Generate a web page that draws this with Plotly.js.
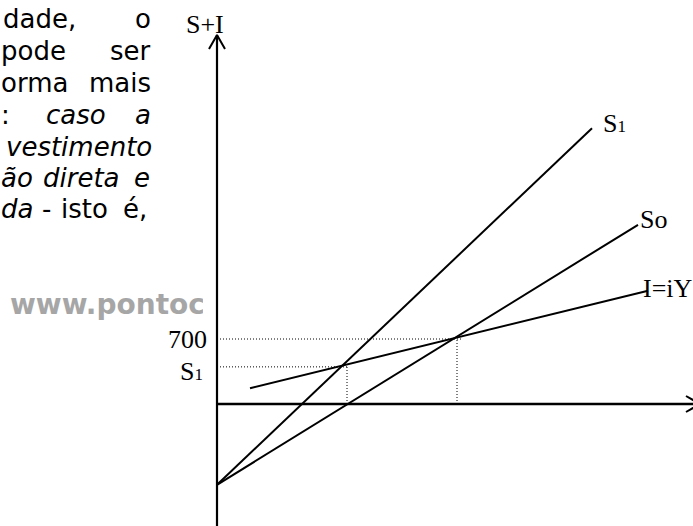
<!DOCTYPE html>
<html><head><meta charset="utf-8">
<script src="https://cdn.plot.ly/plotly-3.0.1.min.js"></script>
<style>html,body{margin:0;padding:0;background:#fff;overflow:hidden}#chart{width:693px;height:526px}</style>
</head><body><div id="chart"></div>
<script>
// ---- data (economic units) ----
const s1X = [0, 3750];          // saving line S1
const s1Y = [-870, 2970];
const s0X = [0, 4210];          // saving line So
const s0Y = [-870, 1930];
const invX = [330, 4310];       // investment line I = iY
const invY = [170, 1220];
const levelY = [700, 400];      // guide levels on the S+I axis
const levelLabels = ['700', 'S<span style="font-size:17px">1</span>'];
const eqX = [2400, 1300];       // equilibrium incomes (vertical guides)
const guideEndX = [2450, 1300]; // where horizontal guides stop
const curveLabels = ['S<span style="font-size:17px">1</span>', 'So', 'I=iY'];
const axisLabel = 'S+I';

// ---- geometry helpers (pixel -> data / paper) ----
const W = 693, H = 526, OX = 217, OY = 404, KX = 10, KY = 700 / 65;
const X = px => (px - OX) * KX;
const Y = py => (OY - py) * KY;
const PX = px => px / W;
const PY = py => 1 - py / H;

const seg = (x, y, o) => ({type: 'scatter', mode: 'lines', x, y, hoverinfo: 'skip',
  line: Object.assign({color: '#000', width: 2}, o || {})});

const traces = [];
// watermark (clipped on the right by a white patch)
traces.push({type: 'scatter', mode: 'text', x: [X(10)], y: [Y(307)], text: ['www.pontoc'],
  textposition: 'middle right', cliponaxis: false, hoverinfo: 'skip',
  textfont: {family: 'DejaVu Sans', size: 28, color: '#a6a6a6', weight: 'bold'}});
// dotted guides
for (let i = 0; i < levelY.length; i++) {
  traces.push(seg([0, guideEndX[i]], [levelY[i], levelY[i]], {width: 1, dash: '1px,2px'}));
  traces.push(seg([eqX[i], eqX[i]], [0, levelY[i]], {width: 1, dash: '1px,2px'}));
}
// axes
traces.push(seg([0, 0], [Y(540), Y(35)], {width: 2.2}));
traces.push(seg([0, X(700)], [0, 0], {width: 2.5}));
traces.push(seg([X(209), 0, X(225)], [Y(49), Y(35), Y(49)], {width: 2}));
traces.push(seg([X(686), X(700), X(686)], [Y(396), 0, Y(412)], {width: 2}));
// curves
traces.push(seg(s1X, s1Y));
traces.push(seg(s0X, s0Y));
traces.push(seg(invX, invY));

const ann = [];
const sans = {family: 'DejaVu Sans', size: 26, color: '#000'};
const serif = {family: 'Liberation Serif', size: 26, color: '#000'};
const put = (text, px, base, anchor, font) => ann.push({text, x: PX(px), y: PY(base - 0.34 * font.size),
  xref: 'paper', yref: 'paper', xanchor: anchor, yanchor: 'middle', showarrow: false, font, borderpad: 0});

// paragraph fragments (justified, cut at the left edge)
const para = [
  [['dade,', 2, 'left'], ['o', 152, 'right']],
  [['pode', 0, 'left'], ['ser', 152, 'right']],
  [['orma', 0, 'left'], ['mais', 152, 'right']],
  [[':', 0, 'left'], ['<i>caso</i>', 45, 'left'], ['<i>a</i>', 152, 'right']],
  [['<i>vestimento</i>', 153, 'right']],
  [['<i>ão</i>', 0, 'left'], ['<i>direta</i>', 42, 'left'], ['<i>e</i>', 151, 'right']],
  [['<i>da</i>', 0, 'left'], ['-', 41, 'left'], ['isto', 60, 'left'], ['é,', 148, 'right']]
];
const bases = [28, 60, 92, 124, 156, 187, 218];
para.forEach((ln, i) => ln.forEach(w => put(w[0], w[1], bases[i], w[2], sans)));

// chart labels
put(axisLabel, 205, 33, 'center', serif);
put(levelLabels[0], 208, 348, 'right', serif);
put(levelLabels[1], 204, 380, 'right', serif);
put(curveLabels[0], 602, 132, 'left', serif);
put(curveLabels[1], 639, 228, 'left', serif);
put(curveLabels[2], 642, 297, 'left', serif);

const layout = {
  width: W, height: H, margin: {l: 0, r: 0, t: 0, b: 0, pad: 0},
  paper_bgcolor: '#fff', plot_bgcolor: '#fff', showlegend: false,
  xaxis: {range: [X(0), X(W)], visible: false, fixedrange: true},
  yaxis: {range: [Y(H), Y(0)], visible: false, fixedrange: true},
  annotations: ann,
  shapes: [{type: 'rect', xref: 'x', yref: 'y', x0: X(203), x1: X(215), y0: Y(328), y1: Y(286),
    fillcolor: '#fff', line: {width: 0}, layer: 'above'}]
};
Plotly.newPlot('chart', traces, layout, {staticPlot: true});
</script></body></html>
